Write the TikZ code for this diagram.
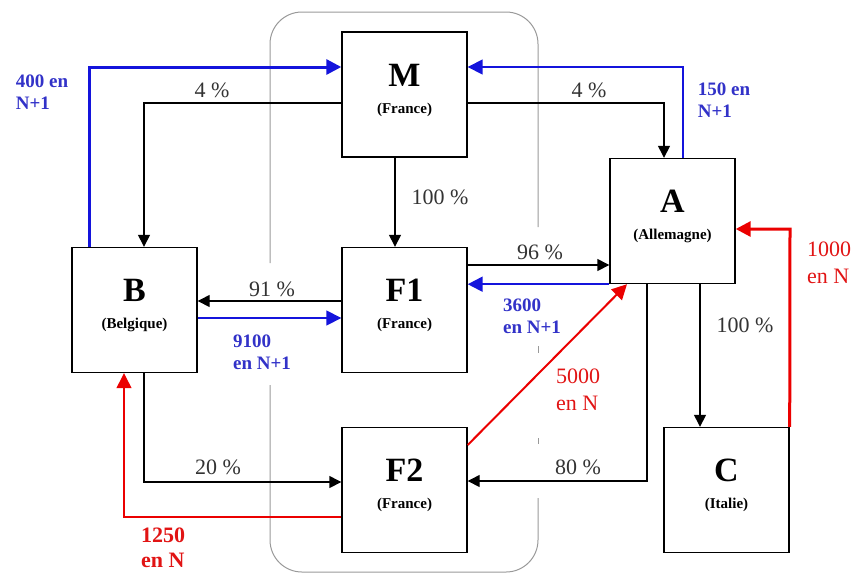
\documentclass[tikz,border=0pt]{standalone}
\usepackage{fontspec}
\setmainfont{Liberation Serif}
\usetikzlibrary{arrows.meta}
\definecolor{lblue}{RGB}{20,20,220}
\definecolor{tblue}{RGB}{50,50,200}
\definecolor{lred}{RGB}{235,0,0}
\definecolor{tred}{RGB}{225,20,20}
\begin{document}
\begin{tikzpicture}[x=1pt,y=-1pt,
 box/.style={draw,line width=1.4pt,minimum width=125pt,minimum height=125pt,inner sep=0pt,align=center,fill=white},
 blk/.style={draw=black,line width=1.4pt,-{Triangle[length=12pt,width=12pt]}},
 blu/.style={draw=lblue,line width=1.6pt,-{Triangle[length=15pt,width=15pt]}},
 rd/.style={draw=lred,line width=1.6pt,-{Triangle[length=15pt,width=15pt]}},
 pct/.style={font=\fontsize{22}{24}\selectfont, text=black!80, inner sep=1pt},
 bl/.style={font=\fontsize{19}{22}\selectfont\bfseries, text=tblue, align=left, inner sep=1pt},
 rl/.style={font=\fontsize{22}{27}\selectfont, text=tred, align=left, inner sep=1pt},
 frame/.style={draw=gray!80, line width=1pt, rounded corners=32pt}]

\useasboundingbox (0,0) rectangle (853,574);

% grey frame
\draw[frame] (270,263) -- (270,12) -- (538,12) -- (538,227);
\draw[draw=gray!80, line width=1pt] (538,346) -- (538,353);
\draw[draw=gray!80, line width=1pt] (538,438) -- (538,444);
\draw[frame] (538,498) -- (538,572) -- (270,572) -- (270,385);

% boxes
\newcommand{\boxlab}[2]{{\fontsize{34}{36}\selectfont\bfseries #1}\\[15pt]{\fontsize{15}{17}\selectfont\bfseries (#2)}\\[0pt]}
\node[box] (M) at (404.5,94.5) {\boxlab{M}{France}};
\node[box] (B) at (134.5,310) {\boxlab{B}{Belgique}};
\node[box] (F1) at (404.5,310) {\boxlab{F1}{France}};
\node[box] (A) at (672.5,221) {\boxlab{A}{Allemagne}};
\node[box] (F2) at (404.5,490) {\boxlab{F2}{France}};
\node[box] (C) at (726.5,490) {\boxlab{C}{Italie}};

% connectors
\coordinate (p400) at (89,67);
\draw[blu, line width=3pt] (p400 |- B.north) -- (p400) -- (p400 -| M.west);
\coordinate (p4l) at (144,103);
\draw[blk] (p4l -| M.west) -- (p4l) -- (p4l |- B.north);
\coordinate (p4r) at (664,103);
\draw[blk] (p4r -| M.east) -- (p4r) -- (p4r |- A.north);
\coordinate (p150) at (683,67);
\draw[blu] (p150 |- A.north) -- (p150) -- (p150 -| M.east);
\coordinate (p100) at (395,200);
\draw[blk] (p100 |- M.south) -- (p100 |- F1.north);
\coordinate (p91) at (300,301);
\draw[blk] (p91 -| F1.west) -- (p91 -| B.east);
\coordinate (p9100) at (300,318);
\draw[blu] (p9100 -| B.east) -- (p9100 -| F1.west);
\coordinate (p96) at (540,265);
\draw[blk] (p96 -| F1.east) -- (p96 -| A.west);
\draw[blu, line width=2pt] (A.south west) -- (A.south west -| F1.east);
\coordinate (p5a) at (467,445);
\coordinate (p5b) at (627,283);
\draw[rd, line width=2pt] (p5a -| F2.east) -- (p5b |- A.south);
\coordinate (p100c) at (700,350);
\draw[blk] (p100c |- A.south) -- (p100c |- C.north);
\coordinate (p80) at (647,481);
\draw[blk] (p80 |- A.south) -- (p80) -- (p80 -| F2.east);
\coordinate (p20) at (144,482);
\draw[blk] (p20 |- B.south) -- (p20) -- (p20 -| F2.west);
\coordinate (p1250) at (124,517);
\draw[rd, line width=1.3pt] (p1250 -| F2.west) -- (p1250) -- (p1250 |- B.south);
\coordinate (p1000) at (790,229);
\draw[rd, line width=3pt] (C.north east) -- (p1000) -- (p1000 -| A.east);

% labels
\node[bl] (l400) at (42,92) {400 en\\N+1};
\node[pct] (l4a) at (212,90) {4 \%};
\node[pct] (l4b) at (589,90) {4 \%};
\node[bl] (l150) at (724,100) {150 en\\N+1};
\node[pct] (l100a) at (440,197) {100 \%};
\node[pct] (l91) at (272,289) {91 \%};
\node[bl] (l9100) at (262,352) {9100\\en N+1};
\node[pct] (l96) at (540,252) {96 \%};
\node[bl] (l3600) at (532,316) {3600\\en N+1};
\node[rl] (l5000) at (578,390) {5000\\en N};
\node[pct] (l80) at (578,467) {80 \%};
\node[pct] (l20) at (218,467) {20 \%};
\node[pct] (l100b) at (745,325) {100 \%};
\node[rl] (l1000) at (829,263) {1000\\en N};
\node[rl, font=\fontsize{22}{25}\selectfont\bfseries] (l1250) at (163,548) {1250\\en N};
\end{tikzpicture}
\end{document}
